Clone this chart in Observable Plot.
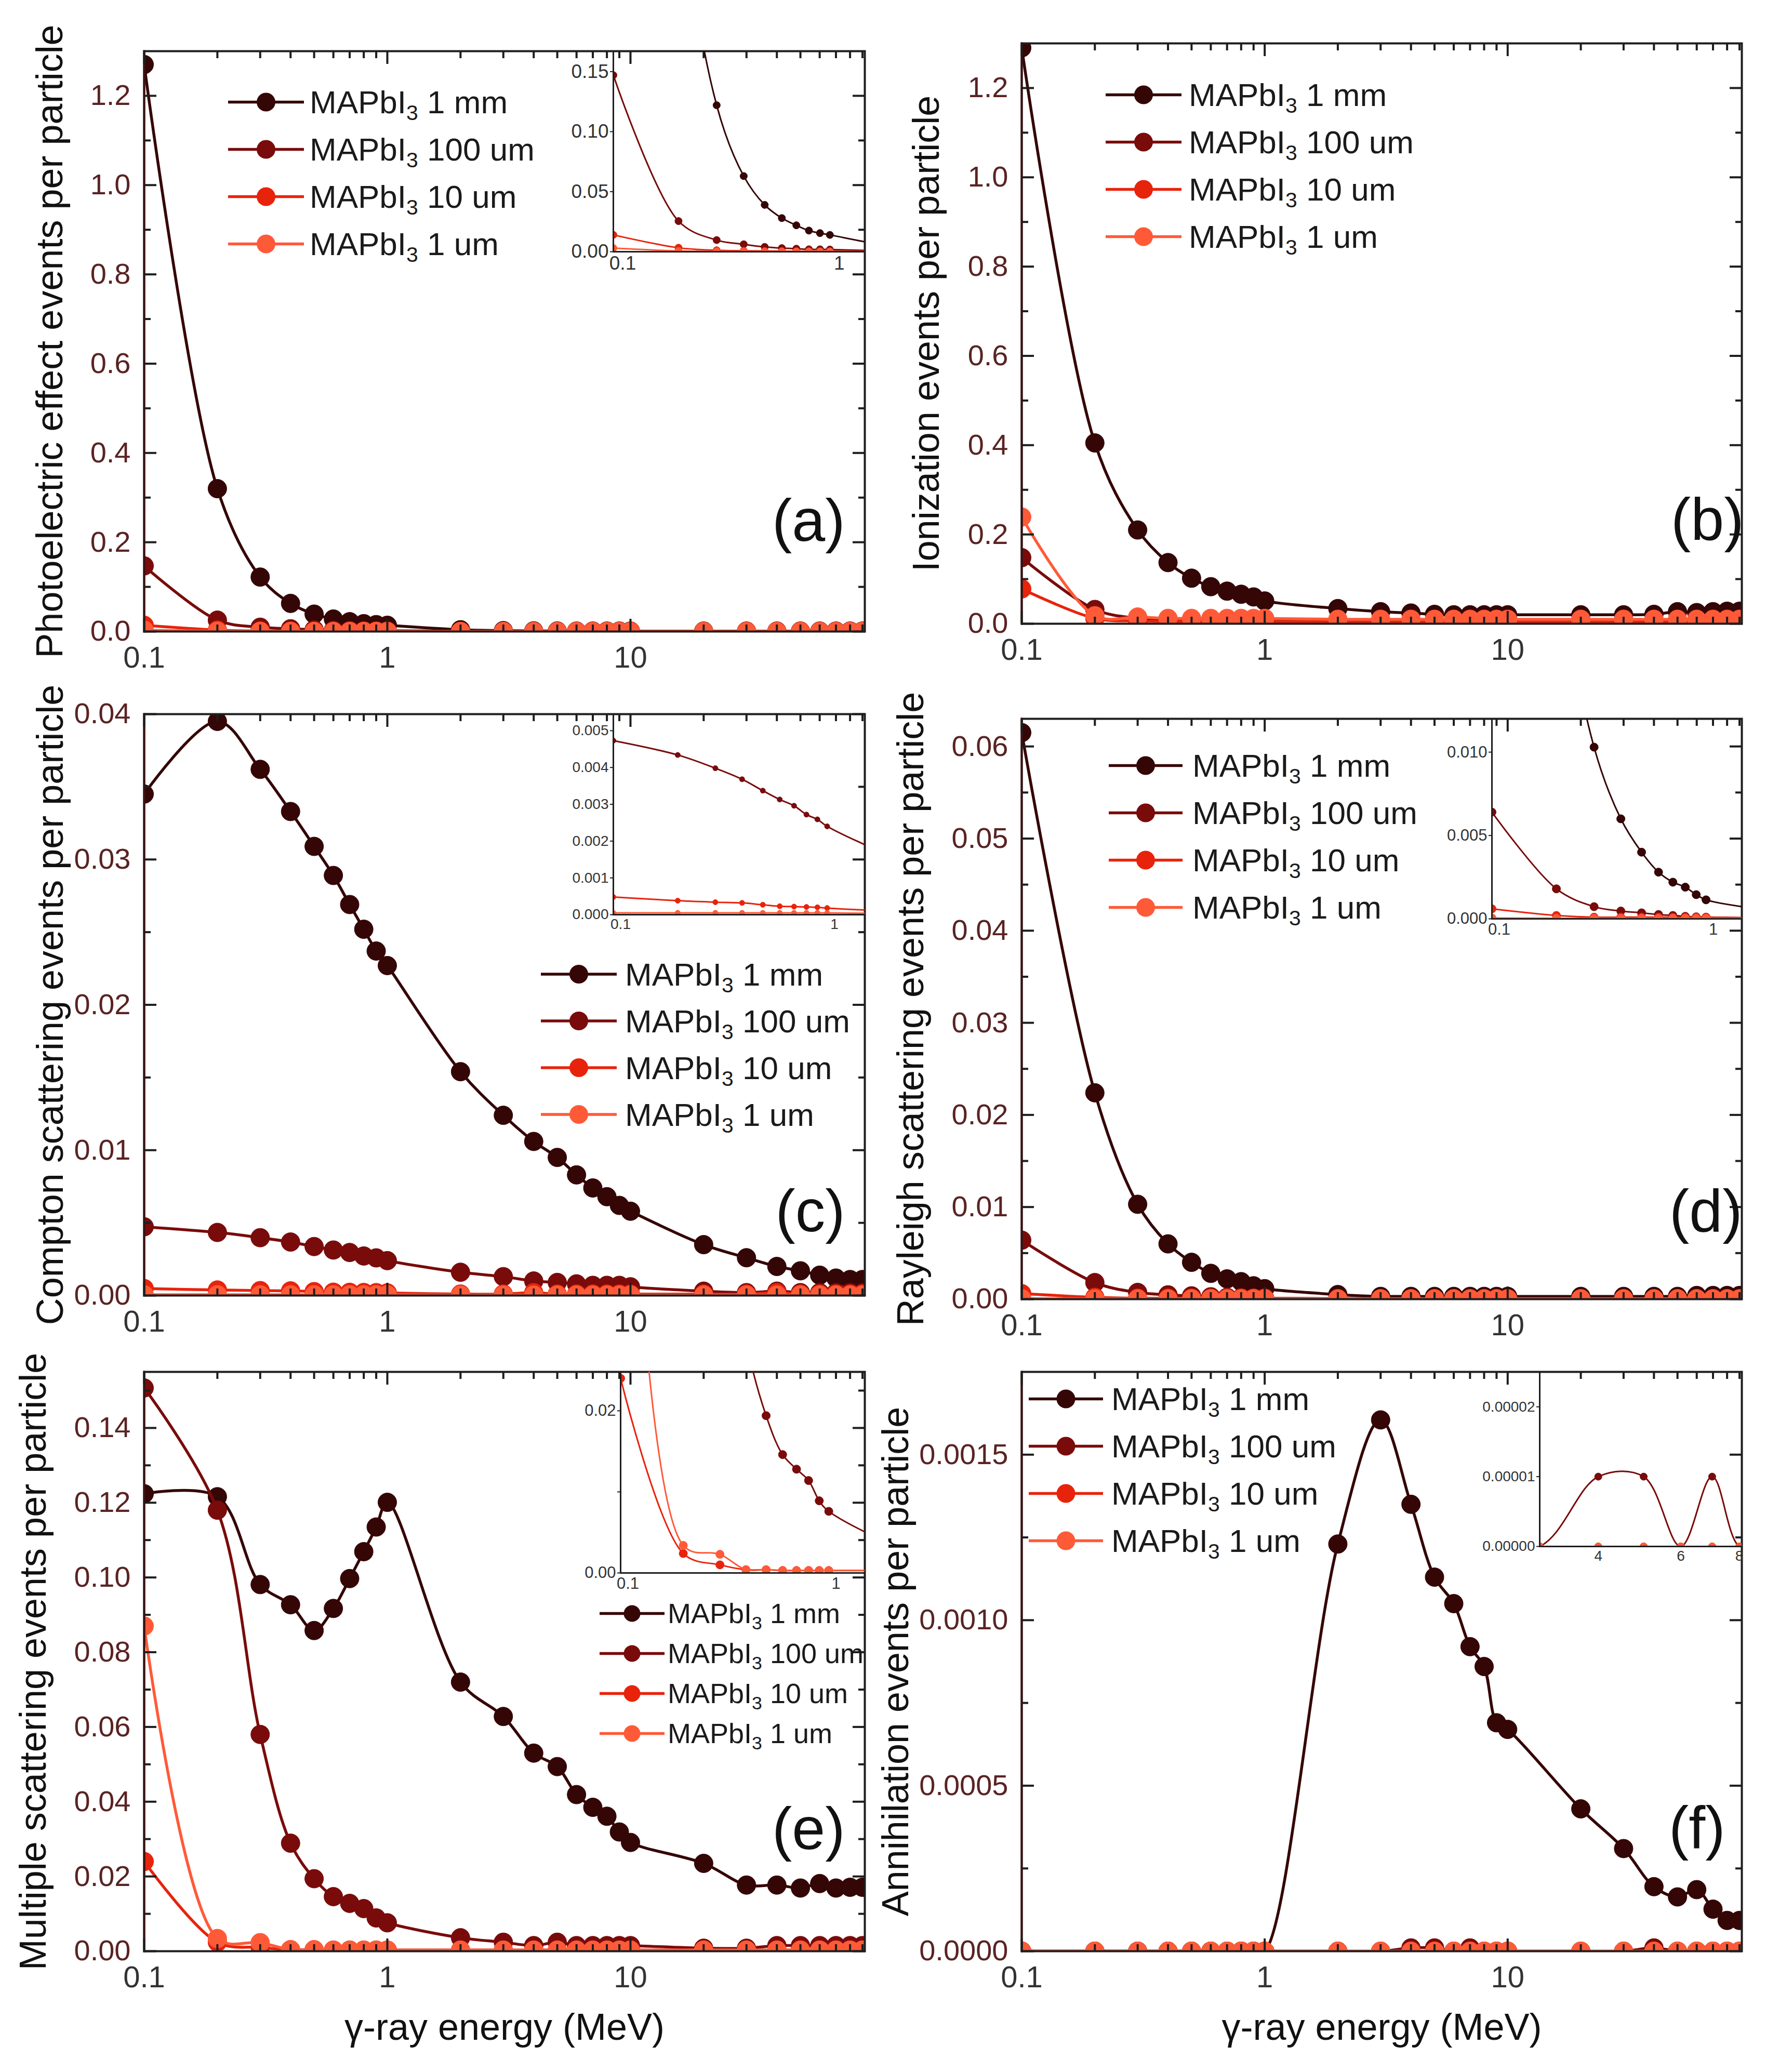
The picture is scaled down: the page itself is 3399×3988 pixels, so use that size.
<!DOCTYPE html>
<html>
<head>
<meta charset="utf-8">
<script src="https://cdn.jsdelivr.net/npm/d3@7"></script>
<script src="https://cdn.jsdelivr.net/npm/@observablehq/plot@0.6"></script>
<style>
  body { margin: 0; background: #fff; }
  #fig { position: relative; width: 3399px; height: 3988px; background: #fff; overflow: hidden;
         font-family: "Liberation Sans", Arial, sans-serif; }
  .leg { position: absolute; color: #1a1a1a; white-space: nowrap; }
  .sub { font-size: 0.66em; position: relative; top: 0.34em; line-height: 0; }
</style>
</head>
<body>
<div id="fig"></div>
<script>
// gamma energies (MeV), same for every panel
const energies = [0.1,0.2,0.3,0.4,0.5,0.6,0.7,0.8,0.9,1,2,3,4,5,6,7,8,9,10,20,30,40,50,60,70,80,90];

const seriesNames = ["1 mm", "100 um", "10 um", "1 um"];
const colors = ["#350606", "#7a0b0b", "#e8230c", "#ff5a38"];

// (a) photoelectric
const photo1mm   = [1.27,0.32,0.122,0.063,0.039,0.028,0.022,0.0176,0.0155,0.014,0.004,0.002,0.0015,0.0012,0.001,0.001,0.001,0.001,0.001,0.001,0.001,0.001,0.001,0.001,0.001,0.001,0.001];
const photo100um = [0.147,0.0255,0.0097,0.0062,0.004,0.003,0.0025,0.002,0.002,0.0018,0.0006,0.0004,0.0003,0.0003,0.0003,0.0003,0.0003,0.0003,0.0003,0.0003,0.0003,0.0003,0.0003,0.0003,0.0003,0.0003,0.0003];
const photo10um  = [0.014,0.0033,0.0012,0.0008,0.0006,0.0005,0.0004,0.0004,0.0003,0.0003,0.0002,0.0002,0.0002,0.0002,0.0002,0.0002,0.0002,0.0002,0.0002,0.0002,0.0002,0.0002,0.0002,0.0002,0.0002,0.0002,0.0002];
const photo1um   = [0.003,0.0006,0.0003,0.0002,0.0002,0.0002,0.0002,0.0002,0.0002,0.0002,0.0001,0.0001,0.0001,0.0001,0.0001,0.0001,0.0001,0.0001,0.0001,0.0001,0.0001,0.0001,0.0001,0.0001,0.0001,0.0001,0.0001];

// (b) ionization
const ion1mm   = [1.29,0.405,0.21,0.137,0.102,0.083,0.073,0.066,0.06,0.051,0.034,0.027,0.024,0.021,0.02,0.02,0.02,0.02,0.02,0.02,0.02,0.021,0.027,0.025,0.027,0.028,0.028];
const ion100um = [0.148,0.032,0.012,0.008,0.008,0.008,0.007,0.007,0.007,0.007,0.005,0.005,0.005,0.005,0.005,0.005,0.005,0.005,0.005,0.005,0.005,0.005,0.005,0.005,0.005,0.005,0.005];
const ion10um  = [0.078,0.012,0.006,0.005,0.005,0.005,0.005,0.005,0.005,0.005,0.004,0.004,0.004,0.004,0.004,0.004,0.004,0.004,0.004,0.004,0.004,0.004,0.004,0.004,0.004,0.004,0.004];
const ion1um   = [0.239,0.018,0.015,0.012,0.012,0.012,0.012,0.012,0.012,0.012,0.01,0.01,0.01,0.01,0.01,0.01,0.01,0.01,0.01,0.01,0.01,0.01,0.01,0.01,0.01,0.01,0.01];

// (c) Compton
const comp1mm   = [0.0345,0.0395,0.0362,0.0333,0.0309,0.0289,0.0269,0.0252,0.0237,0.0227,0.0154,0.0124,0.0106,0.0095,0.0083,0.0074,0.0068,0.0062,0.0058,0.0035,0.0026,0.002,0.0017,0.0014,0.0012,0.0011,0.0011];
const comp100um = [0.00473,0.00434,0.00398,0.00368,0.00337,0.00313,0.00296,0.00272,0.00259,0.0024,0.0016,0.0013,0.001,0.0009,0.0008,0.0007,0.0007,0.0007,0.0006,0.0003,0.0002,0.0003,0.0002,0.0002,0.0002,0.0002,0.0002];
const comp10um  = [0.00048,0.00038,0.00034,0.00032,0.00027,0.00023,0.00022,0.00021,0.0002,0.00018,0.0001,0.0001,0.0002,0.0001,0.0001,0.0001,0.0001,0.0001,0.0001,0.0001,0.0001,0.0002,0.0001,0.0001,0.0001,0.0001,0.0001];
const comp1um   = [0.00005,0.00005,0.00005,0.00005,0.00005,0.00005,0.00005,0.00005,0.00005,0.00005,0.00003,0.00003,0.00003,0.00003,0.00003,0.00003,0.00003,0.00003,0.00003,0.00003,0.00003,0.00003,0.00003,0.00003,0.00003,0.00003,0.00003];

// (d) Rayleigh
const ray1mm   = [0.0615,0.0224,0.0103,0.006,0.004,0.0028,0.0022,0.0019,0.00145,0.00114,0.0005,0.0003,0.0003,0.0003,0.0003,0.0003,0.0003,0.0003,0.0003,0.0003,0.0003,0.0003,0.0003,0.0004,0.0004,0.0004,0.0004];
const ray100um = [0.0064,0.0018,0.00073,0.00047,0.00036,0.00026,0.0002,0.00015,0.00012,0.0001,0.00005,0.00005,0.00005,0.00005,0.00005,0.00005,0.00005,0.00005,0.00005,0.00005,0.00005,0.00005,0.00005,0.00005,0.00005,0.00005,0.00005];
const ray10um  = [0.0006,0.0002,0.0001,0.0001,0.0001,0.0001,0.0001,0.0001,0.0001,0.0001,0.00005,0.00005,0.00005,0.00005,0.00005,0.00005,0.00005,0.00005,0.00005,0.00005,0.00005,0.00005,0.00005,0.00005,0.00005,0.00005,0.00005];
const ray1um   = [0.00005,0.00003,0.00003,0.00003,0.00003,0.00003,0.00003,0.00003,0.00003,0.00003,0.00003,0.00003,0.00003,0.00003,0.00003,0.00003,0.00003,0.00003,0.00003,0.00003,0.00003,0.00003,0.00003,0.00003,0.00003,0.00003,0.00003];

// (e) multiple scattering
const multi1mm   = [0.1224,0.1216,0.0981,0.0927,0.0858,0.0917,0.0997,0.1069,0.1135,0.1201,0.072,0.0628,0.053,0.0494,0.0419,0.0385,0.0361,0.0319,0.0291,0.0235,0.0177,0.0177,0.0169,0.0181,0.0169,0.0171,0.0171];
const multi100um = [0.1507,0.118,0.058,0.0289,0.0194,0.0146,0.0128,0.0114,0.0089,0.0076,0.0036,0.0024,0.0015,0.0024,0.0015,0.0015,0.0015,0.0015,0.0015,0.0008,0.0008,0.0015,0.0015,0.0015,0.0015,0.0015,0.0015];
const multi10um  = [0.024,0.0024,0.001,0.0004,0.0004,0.0003,0.0003,0.0003,0.0003,0.0003,0.0003,0.0003,0.0003,0.0003,0.0003,0.0003,0.0003,0.0003,0.0003,0.0003,0.0003,0.0003,0.0003,0.0003,0.0003,0.0003,0.0003];
const multi1um   = [0.087,0.0034,0.0023,0.0004,0.0004,0.0003,0.0003,0.0003,0.0003,0.0003,0.0003,0.0003,0.0003,0.0003,0.0003,0.0003,0.0003,0.0003,0.0003,0.0003,0.0003,0.0003,0.0003,0.0003,0.0003,0.0003,0.0003];

// (f) annihilation
const anni1mm   = [0,0,0,0,0,0,0,0,0,0,0.00123,0.001605,0.00135,0.00113,0.00105,0.00092,0.00086,0.00069,0.00067,0.00043,0.00031,0.000195,0.000164,0.000186,0.000127,0.000093,0.000093];
const anni100um = [0,0,0,0,0,0,0,0,0,0,0,0,0.00001,0.00001,0,0.00001,0,0,0,0,0,0.00001,0,0,0,0,0];
const anni10um  = [0,0,0,0,0,0,0,0,0,0,0,0,0,0,0,0,0,0,0,0,0,0,0,0,0,0,0];
const anni1um   = [0,0,0,0,0,0,0,0,0,0,0,0,0,0,0,0,0,0,0,0,0,0,0,0,0,0,0];

const xMajor = [0.1, 1, 10];
const xMinor = [0.2,0.3,0.4,0.5,0.6,0.7,0.8,0.9,2,3,4,5,6,7,8,9,20,30,40,50,60,70,80,90];
const xTitle = "γ-ray energy (MeV)";

const FONT = '"Liberation Sans", Arial, sans-serif';
const fig = d3.select("#fig");

function place(node, left, top) {
  node.style.position = "absolute";
  node.style.left = left + "px";
  node.style.top = top + "px";
  fig.node().appendChild(node);
}

function seriesMarks(values, r, sw) {
  return values.flatMap((vals, k) => [
    Plot.line(energies, {x: d => d, y: (d, i) => vals[i], curve: "catmull-rom", stroke: colors[k], strokeWidth: sw, clip: true}),
    Plot.dot(energies, {x: d => d, y: (d, i) => vals[i], r, fill: colors[k], stroke: colors[k], strokeWidth: 1, clip: true})
  ]);
}

function mainPanel(p) {
  const ml = 300, mr = 40, mt = 110, mb = 220;
  const W = p.R - p.L, H = p.B - p.T;
  const tk = {label: null, tickFormat: () => "", stroke: "#1e1e1e", strokeWidth: 4};
  const chart = Plot.plot({
    width: W + ml + mr, height: H + mt + mb,
    marginLeft: ml, marginRight: mr, marginTop: mt, marginBottom: mb,
    style: {fontFamily: FONT, background: "transparent", overflow: "visible"},
    x: {type: "log", domain: [0.1, 92]},
    y: {domain: p.y},
    marks: [
      ...seriesMarks(p.values, 18, 5.5),
      Plot.frame({stroke: "#1e1e1e", strokeWidth: 4}),
      Plot.frame({anchor: "left", stroke: "#3a1212", strokeWidth: 4}),
      Plot.axisX(xMajor, {anchor: "bottom", tickSize: -24, ...tk}),
      Plot.axisX(xMinor, {anchor: "bottom", tickSize: -13, ...tk}),
      Plot.axisX(xMajor, {anchor: "top", tickSize: -24, ...tk}),
      Plot.axisX(xMinor, {anchor: "top", tickSize: -13, ...tk}),
      Plot.axisY(p.major, {anchor: "left", tickSize: -24, ...tk}),
      Plot.axisY(p.minor, {anchor: "left", tickSize: -13, ...tk}),
      Plot.axisY(p.major, {anchor: "right", tickSize: -24, ...tk}),
      Plot.axisY(p.minor, {anchor: "right", tickSize: -13, ...tk}),
      Plot.axisX(xMajor, {anchor: "bottom", tickSize: 0, tickPadding: 28, fontSize: 58, fill: "#333", label: null, tickFormat: d => String(d)}),
      Plot.axisY(p.major, {anchor: "left", tickSize: 0, tickPadding: 26, fontSize: 56, fill: "#5a2323", label: null, tickFormat: p.fmt}),
      Plot.text([p.title], {frameAnchor: "left", dx: p.tdx, rotate: -90, textAnchor: "middle", lineAnchor: "middle", fontSize: 72, fill: "#111"}),
      Plot.text([p.letter], {frameAnchor: "bottom-right", dx: p.ldx, dy: p.ldy, textAnchor: "end", lineAnchor: "middle", fontSize: 115, fill: "#111"}),
      p.xTitle ? Plot.text([xTitle], {frameAnchor: "bottom", dy: 147, textAnchor: "middle", lineAnchor: "middle", fontSize: 72, fill: "#111"}) : null
    ]
  });
  place(chart, p.L - ml, p.T - mt);
}

function inset(p) {
  const ml = 170, mr = 12, mt = 10, mb = 70;
  const W = p.R - p.L, H = p.B - p.T;
  const chart = Plot.plot({
    width: W + ml + mr, height: H + mt + mb,
    marginLeft: ml, marginRight: mr, marginTop: mt, marginBottom: mb,
    style: {fontFamily: FONT, background: "transparent", overflow: "visible"},
    x: {type: "log", domain: p.x},
    y: {domain: p.y},
    marks: [
      ...seriesMarks(p.values, p.r, 3),
      Plot.frame({anchor: "left", stroke: "#1e1e1e", strokeWidth: 3}),
      Plot.frame({anchor: "bottom", stroke: "#1e1e1e", strokeWidth: 3}),
      Plot.axisY(p.yTicks, {anchor: "left", tickSize: 6, tickPadding: 3, fontSize: p.fs, fill: "#333", stroke: "#1e1e1e", strokeWidth: 2, label: null, tickFormat: p.fmt}),
      p.yMinor ? Plot.axisY(p.yMinor, {anchor: "left", tickSize: 6, stroke: "#1e1e1e", strokeWidth: 2, label: null, tickFormat: () => ""}) : null,
      Plot.axisX(p.xTicks, {anchor: "bottom", tickSize: 0, tickPadding: 8, dx: p.xdx, fontSize: p.fs, fill: "#333", label: null, tickFormat: d => String(d)})
    ]
  });
  place(chart, p.L - ml, p.T - mt);
}

function legend(g) {
  const box = fig.append("div").attr("class", "leg")
    .style("left", g.x0 + "px").style("top", (g.y0 - g.gap / 2) + "px")
    .style("font-size", g.fs + "px");
  seriesNames.forEach((name, k) => {
    const row = box.append("div").style("height", g.gap + "px").style("display", "flex").style("align-items", "center");
    const len = g.x1 - g.x0;
    const svg = row.append("svg").attr("width", g.tx - g.x0).attr("height", g.gap);
    svg.append("line").attr("x1", 0).attr("x2", len).attr("y1", g.gap / 2).attr("y2", g.gap / 2)
      .attr("stroke", colors[k]).attr("stroke-width", 5.5);
    svg.append("circle").attr("cx", len / 2).attr("cy", g.gap / 2).attr("r", g.r).attr("fill", colors[k]);
    row.append("span").html(`MAPbI<span class="sub">3</span> ${name}`);
  });
}

const f1 = d3.format(".1f"), f2 = d3.format(".2f"), f3 = d3.format(".3f"), f4 = d3.format(".4f"), f5 = d3.format(".5f");

mainPanel({L: 277, R: 1664, T: 98, B: 1215, y: [0, 1.3], values: [photo1mm, photo100um, photo10um, photo1um],
  major: [0,0.2,0.4,0.6,0.8,1.0,1.2], minor: [0.1,0.3,0.5,0.7,0.9,1.1], fmt: f1,
  title: "Photoelectric effect events per particle", tdx: -181, letter: "(a)", ldx: -38, ldy: -211});
mainPanel({L: 1966, R: 3352, T: 83, B: 1200, y: [0, 1.3], values: [ion1mm, ion100um, ion10um, ion1um],
  major: [0,0.2,0.4,0.6,0.8,1.0,1.2], minor: [0.1,0.3,0.5,0.7,0.9,1.1], fmt: f1,
  title: "Ionization events per particle", tdx: -183, letter: "(b)", ldx: 4, ldy: -198});
mainPanel({L: 277, R: 1664, T: 1374, B: 2493, y: [0, 0.04], values: [comp1mm, comp100um, comp10um, comp1um],
  major: [0,0.01,0.02,0.03,0.04], minor: [0.005,0.015,0.025,0.035], fmt: f2,
  title: "Compton scattering events per particle", tdx: -180, letter: "(c)", ldx: -38, ldy: -160});
mainPanel({L: 1966, R: 3352, T: 1383, B: 2500, y: [0, 0.063], values: [ray1mm, ray100um, ray10um, ray1um],
  major: [0,0.01,0.02,0.03,0.04,0.05,0.06], minor: [0.005,0.015,0.025,0.035,0.045,0.055], fmt: f2,
  title: "Rayleigh scattering events per particle", tdx: -213, letter: "(d)", ldx: 1, ldy: -167});
mainPanel({L: 277, R: 1664, T: 2640, B: 3755, y: [0, 0.155], values: [multi1mm, multi100um, multi10um, multi1um],
  major: [0,0.02,0.04,0.06,0.08,0.1,0.12,0.14], minor: [0.01,0.03,0.05,0.07,0.09,0.11,0.13,0.15], fmt: f2,
  title: "Multiple scattering events per particle", tdx: -213, letter: "(e)", ldx: -38, ldy: -233, xTitle: true});
mainPanel({L: 1966, R: 3352, T: 2640, B: 3755, y: [0, 0.00175], values: [anni1mm, anni100um, anni10um, anni1um],
  major: [0,0.0005,0.001,0.0015], minor: [0.00025,0.00075,0.00125], fmt: f4,
  title: "Annihilation events per particle", tdx: -242, letter: "(f)", ldx: -32, ldy: -235, xTitle: true});

inset({L: 1180, R: 1664, T: 98, B: 484, x: [0.1, 1.45], y: [0, 0.167], values: [photo1mm, photo100um, photo10um, photo1um],
  yTicks: [0,0.05,0.1,0.15], xTicks: [0.1, 1], fmt: f2, fs: 37, r: 7, xdx: 18});
inset({L: 1180, R: 1664, T: 1374, B: 1760, x: [0.1, 1.5], y: [0, 0.00545], values: [comp1mm, comp100um, comp10um, comp1um],
  yTicks: [0,0.001,0.002,0.003,0.004,0.005], xTicks: [0.1, 1], fmt: f3, fs: 28, r: 5, xdx: 14});
inset({L: 2871, R: 3352, T: 1383, B: 1768, x: [0.1, 1.47], y: [0, 0.012], values: [ray1mm, ray100um, ray10um, ray1um],
  yTicks: [0,0.005,0.01], xTicks: [0.1, 1], fmt: f3, fs: 31, r: 8, xdx: 14});
inset({L: 1194, R: 1664, T: 2640, B: 3027, x: [0.1, 1.49], y: [0, 0.0248], values: [multi1mm, multi100um, multi10um, multi1um],
  yTicks: [0,0.02], yMinor: [0.01], xTicks: [0.1, 1], fmt: f2, fs: 31, r: 8, xdx: 14});
inset({L: 2963, R: 3352, T: 2640, B: 2976, x: [3, 8.1], y: [0, 0.000025], values: [anni1mm, anni100um, anni10um, anni1um],
  yTicks: [0,0.00001,0.00002], xTicks: [4, 6, 8], fmt: f5, fs: 28, r: 7, xdx: 0});

legend({x0: 439, x1: 585, tx: 596, y0: 196, gap: 91, fs: 62, r: 18});
legend({x0: 2128, x1: 2274, tx: 2288, y0: 182, gap: 91, fs: 62, r: 18});
legend({x0: 1041, x1: 1187, tx: 1203, y0: 1875, gap: 90, fs: 62, r: 18});
legend({x0: 2134, x1: 2276, tx: 2295, y0: 1473, gap: 91, fs: 62, r: 18});
legend({x0: 1154, x1: 1279, tx: 1285, y0: 3105, gap: 77, fs: 54, r: 16});
legend({x0: 1980, x1: 2123, tx: 2139, y0: 2692, gap: 91, fs: 62, r: 18});
</script>
</body>
</html>
